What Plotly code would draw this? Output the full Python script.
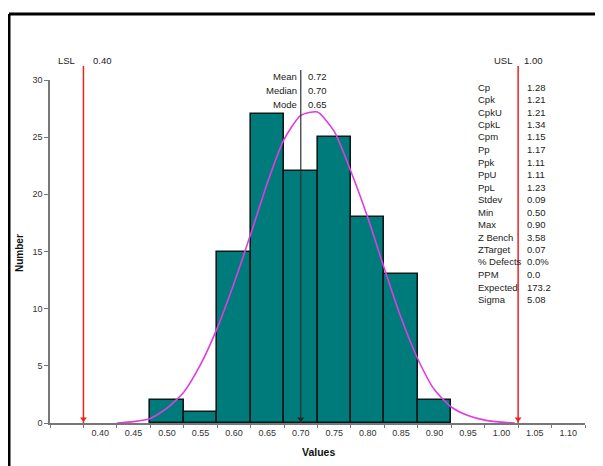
import plotly.graph_objects as go

# ---------------- data ----------------
bin_centers = [0.50, 0.55, 0.60, 0.65, 0.70, 0.75, 0.80, 0.85, 0.90]
counts = [2, 1, 15, 27, 22, 25, 18, 13, 2]
bin_width = 0.05

tick_values = [0.40, 0.45, 0.50, 0.55, 0.60, 0.65, 0.70, 0.75, 0.80, 0.85, 0.90, 0.95, 1.00, 1.05, 1.10]
tick_labels = ["0.40", "0.45", "0.50", "0.55", "0.60", "0.65", "0.70", "0.75", "0.80", "0.85",
               "0.90", "0.95", "1.00", "1.05", "1.10"]

# fitted normal curve
curve_x = [0.425, 0.45, 0.475, 0.50, 0.525, 0.55, 0.575, 0.60, 0.625, 0.65, 0.675, 0.70,
           0.725, 0.75, 0.775, 0.80, 0.825, 0.85, 0.875, 0.90, 0.925, 0.95, 0.975, 1.00, 1.02]
curve_y = [0.0, 0.12, 0.4, 1.3, 2.7, 5.1, 8.3, 12.2, 16.5, 21.0, 24.8, 26.9,
           27.2, 25.5, 22.0, 18.0, 13.5, 9.2, 5.6, 2.9, 1.4, 0.65, 0.25, 0.08, 0.0]

lsl, usl = 0.40, 1.00
center_labels = ["Mean", "Median", "Mode"]
center_values = ["0.72", "0.70", "0.65"]
median_value = 0.70

stats_labels = ["Cp", "Cpk", "CpkU", "CpkL", "Cpm", "Pp", "Ppk", "PpU", "PpL", "Stdev", "Min",
                "Max", "Z Bench", "ZTarget", "% Defects", "PPM", "Expected", "Sigma"]
stats_values = ["1.28", "1.21", "1.21", "1.34", "1.15", "1.17", "1.11", "1.11", "1.23", "0.09",
                "0.50", "0.90", "3.58", "0.07", "0.0%", "0.0", "173.2", "5.08"]

# ---------------- layout geometry ----------------
# The page body has an 8px margin, so the figure is laid out in reference pixels minus 8.
OFF = 8
W, H = 603 - OFF, 466 - OFF
L, R, T, B = 50, 585, 80, 423          # plot area in reference pixels
x_range = [0.325, 1.125]
y_range = [0, 30]
FONT = "Liberation Sans, Arial, sans-serif"


def paper_x(px):
    return (px - L) / (R - L)


def paper_y(py):
    return (B - py) / (B - T)


# spec lines are drawn on category edges, as in the source chart
lsl_pos = lsl - bin_width / 2
usl_pos = usl + bin_width / 2

fig = go.Figure()

fig.add_trace(go.Bar(
    x=bin_centers, y=counts, width=bin_width,
    marker=dict(color="#007b7b", line=dict(color="#0a1a1a", width=1.6)),
    showlegend=False, hoverinfo="x+y",
))

fig.add_trace(go.Scatter(
    x=curve_x, y=curve_y, mode="lines",
    line=dict(color="#e03ce0", width=1.6, shape="spline", smoothing=0.6),
    showlegend=False,
))

# vertical reference lines
line_top = paper_y(66)
fig.add_shape(type="line", xref="x", yref="paper", x0=lsl_pos, x1=lsl_pos, y0=0, y1=line_top,
              line=dict(color="#ee2020", width=1.5), layer="above")
fig.add_shape(type="line", xref="x", yref="paper", x0=usl_pos, x1=usl_pos, y0=0, y1=line_top,
              line=dict(color="#ee2020", width=1.5), layer="above")
fig.add_shape(type="line", xref="x", yref="paper", x0=median_value, x1=median_value, y0=0,
              y1=paper_y(70), line=dict(color="#303030", width=1.2), layer="above")

fig.add_trace(go.Scatter(
    x=[lsl_pos, usl_pos, median_value], y=[0.35, 0.35, 0.35], mode="markers",
    marker=dict(symbol="triangle-down", size=6, color=["#ee2020", "#ee2020", "#202020"]),
    showlegend=False, cliponaxis=False, hoverinfo="skip",
))

ann = []
txt_font = dict(family=FONT, size=9.5, color="#222222")


def label(x, y, text, xanchor, xref="x", xshift=0, font=txt_font):
    ann.append(dict(x=x, y=y, xref=xref, yref="paper", text=text, showarrow=False,
                    xanchor=xanchor, yanchor="middle", xshift=xshift, font=font))


# LSL / USL labels
label(lsl_pos, paper_y(60), "LSL", "right", xshift=-6)
label(lsl_pos, paper_y(60), f"{lsl:.2f}", "left", xshift=8)
label(usl_pos, paper_y(60), "USL", "right", xshift=-4)
label(usl_pos, paper_y(60), f"{usl:.2f}", "left", xshift=4)

# Mean / Median / Mode
for i, (lab, val) in enumerate(zip(center_labels, center_values)):
    py = 76 + 14 * i
    label(median_value, paper_y(py), lab, "right", xshift=-2)
    label(median_value, paper_y(py), val, "left", xshift=5)

# statistics column
for i, (lab, val) in enumerate(zip(stats_labels, stats_values)):
    py = 87 + 12.5 * i
    label(paper_x(476), paper_y(py), lab, "left", xref="paper")
    label(paper_x(525), paper_y(py), val, "left", xref="paper")

# axis titles
ann.append(dict(x=paper_x(20), y=paper_y(253), xref="paper", yref="paper", text="<b>Number</b>",
                textangle=-90, showarrow=False, xanchor="center", yanchor="middle",
                font=dict(family=FONT, size=10, color="#111111")))
ann.append(dict(x=paper_x(318), y=paper_y(452), xref="paper", yref="paper", text="<b>Values</b>",
                showarrow=False, xanchor="center", yanchor="middle",
                font=dict(family=FONT, size=10.5, color="#111111")))

# frame (top and left edges visible)
fig.add_shape(type="line", xref="paper", yref="paper", x0=paper_x(9), x1=paper_x(640),
              y0=paper_y(14), y1=paper_y(14), line=dict(color="black", width=3))
fig.add_shape(type="line", xref="paper", yref="paper", x0=paper_x(9), x1=paper_x(9),
              y0=paper_y(14), y1=paper_y(500), line=dict(color="black", width=3))

fig.update_layout(
    width=W, height=H,
    margin=dict(l=L - OFF, r=603 - R, t=T - OFF, b=466 - B, pad=0),
    paper_bgcolor="white", plot_bgcolor="white",
    bargap=0, annotations=ann, showlegend=False,
    font=dict(family=FONT, size=9, color="#333333"),
)
fig.update_xaxes(
    range=x_range, tickvals=tick_values, ticktext=tick_labels, ticks="", showgrid=False,
    zeroline=False, showline=True, linecolor="#777777", linewidth=1.5,
    tickfont=dict(family=FONT, size=9, color="#333333"),
    minor=dict(tick0=0.025, dtick=0.05, ticks="outside", ticklen=3, tickcolor="#777777", showgrid=False),
)
fig.update_yaxes(
    range=y_range, tickvals=[0, 5, 10, 15, 20, 25, 30], ticks="outside", ticklen=4,
    tickcolor="#777777", showgrid=False, zeroline=False, showline=True, linecolor="#777777",
    linewidth=1.5, tickfont=dict(family=FONT, size=9, color="#333333"),
)

fig.write_html("out.html")
